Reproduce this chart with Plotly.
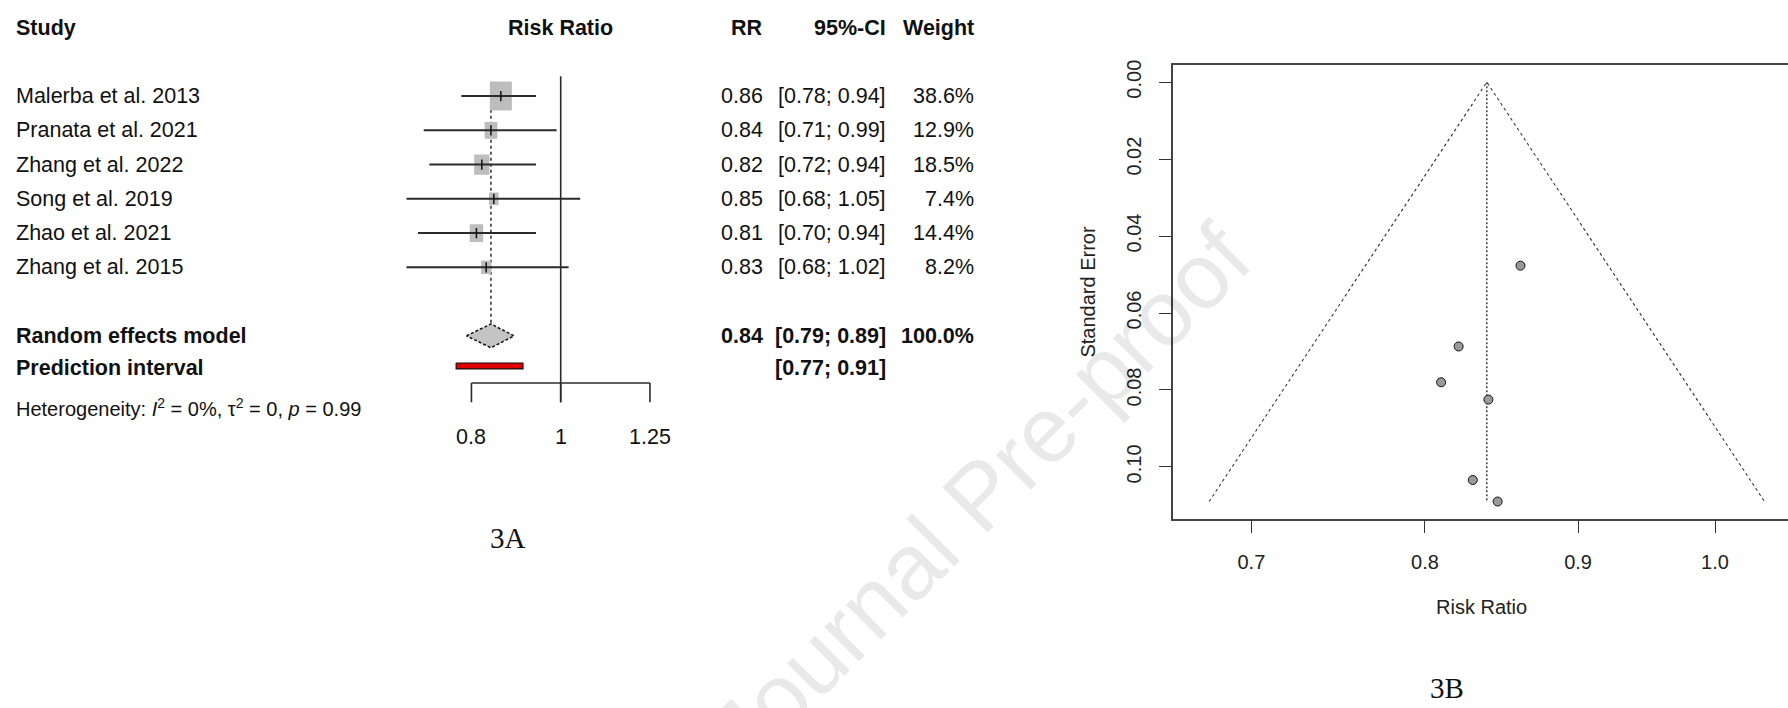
import math
import plotly.graph_objects as go

# ---------------- data ----------------
studies = ["Malerba et al. 2013", "Pranata et al. 2021", "Zhang et al. 2022",
           "Song et al. 2019", "Zhao et al. 2021", "Zhang et al. 2015"]
rr = [0.861, 0.840, 0.821, 0.846, 0.810, 0.830]
ci_lo = [0.78, 0.71, 0.72, 0.68, 0.70, 0.68]
ci_hi = [0.94, 0.99, 0.94, 1.05, 0.94, 1.02]
weight = [38.6, 12.9, 18.5, 7.4, 14.4, 8.2]
se = [0.0477, 0.0825, 0.0687, 0.1090, 0.0780, 0.1034]

pooled_rr, pooled_lo, pooled_hi = 0.84, 0.79, 0.89
pred_lo, pred_hi = 0.77, 0.91
funnel_center = 0.839
het_text = "Heterogeneity: <i>I</i><sup>2</sup> = 0%, τ<sup>2</sup> = 0, <i>p</i> = 0.99"

forest_ticks = [0.8, 1, 1.25]
forest_ticklabels = ["0.8", "1", "1.25"]
funnel_xticks = [0.7, 0.8, 0.9, 1.0]
funnel_xticklabels = ["0.7", "0.8", "0.9", "1.0"]
funnel_yticks = [0.0, 0.02, 0.04, 0.06, 0.08, 0.10]
funnel_yticklabels = ["0.00", "0.02", "0.04", "0.06", "0.08", "0.10"]

# ---------------- layout geometry ----------------
W, H = 1788, 708
LN10 = math.log(10)
SANS = "Liberation Sans, Arial, Helvetica, sans-serif"
SERIF = "Liberation Serif, Times New Roman, serif"
FS = 21.5  # forest text size

def px(xp):
    return xp / W

def py(yp):
    return 1 - yp / H

# forest x: RR=1 at 560.7 px, 400 px per ln unit
F_ONE, F_SCALE = 560.7, 400.0
F_DOM = [0.0, 0.6]
f_range = [((F_DOM[0] * W) - F_ONE) / F_SCALE / LN10, ((F_DOM[1] * W) - F_ONE) / F_SCALE / LN10]
# forest y: row 0 at 91.7 px, 34.5 px per row
R0, RS = 91.7, 34.5
fy_range = [(H - R0) / RS, (0 - R0) / RS]

def row_h(pix):
    return pix / RS

# funnel axes
FX_LEFT = 1172.7
FX_07 = 1251.4
FX_SCALE = 1299.8
fx_range = [(math.log(0.7) - (FX_07 - FX_LEFT) / FX_SCALE) / LN10,
            (math.log(0.7) + (W - FX_07) / FX_SCALE) / LN10]
FY_TOP, FY_BOT = 60.7, 517.3
FY_0, FY_SCALE = 77.7, 3875.0
fy2_range = [(FY_BOT - FY_0) / FY_SCALE, (FY_TOP - FY_0) / FY_SCALE]

fig = go.Figure()
DARK = "#2b2b2b"

# ---------------- forest plot ----------------
n = len(studies)
rows = list(range(n))
row_re, row_pi, row_axis, row_tickend, row_ticklab, row_het, row_head = 7, 7.88, 8.376, 8.94, 9.95, 9.08, -2.0

# pooled dashed line
fig.add_trace(go.Scatter(x=[pooled_rr, pooled_rr], y=[-0.3, row_re - row_h(12)], mode="lines",
                         line=dict(color=DARK, width=1.5, dash="3px,3px"), xaxis="x", yaxis="y",
                         hoverinfo="skip", showlegend=False))
# line of no effect
fig.add_trace(go.Scatter(x=[1, 1], y=[row_h(71.7 - R0), row_tickend], mode="lines",
                         line=dict(color=DARK, width=1.6), xaxis="x", yaxis="y",
                         hoverinfo="skip", showlegend=False))
# squares
for i in rows:
    wpx = 3.55 * math.sqrt(weight[i])
    hw = wpx / 2 / F_SCALE
    hh = row_h(wpx * 1.33) / 2
    xs = [rr[i] * math.exp(-hw), rr[i] * math.exp(hw), rr[i] * math.exp(hw), rr[i] * math.exp(-hw), rr[i] * math.exp(-hw)]
    ys = [i - hh, i - hh, i + hh, i + hh, i - hh]
    fig.add_trace(go.Scatter(x=xs, y=ys, mode="lines", fill="toself", fillcolor="#bdbdbd",
                             line=dict(width=0, color="#bdbdbd"), xaxis="x", yaxis="y",
                             hoverinfo="skip", showlegend=False))
# CI lines
cx, cy = [], []
for i in rows:
    cx += [ci_lo[i], ci_hi[i], None]
    cy += [i, i, None]
fig.add_trace(go.Scatter(x=cx, y=cy, mode="lines", line=dict(color=DARK, width=2),
                         xaxis="x", yaxis="y", hoverinfo="skip", showlegend=False))
# estimate ticks
tx, ty = [], []
for i in rows:
    tx += [rr[i], rr[i], None]
    ty += [i - 0.15, i + 0.15, None]
fig.add_trace(go.Scatter(x=tx, y=ty, mode="lines", line=dict(color="#111", width=1.5),
                         xaxis="x", yaxis="y", hoverinfo="skip", showlegend=False))
# diamond
dh = row_h(12)
fig.add_trace(go.Scatter(x=[pooled_lo, pooled_rr, pooled_hi, pooled_rr, pooled_lo],
                         y=[row_re, row_re - dh, row_re, row_re + dh, row_re],
                         mode="lines", fill="toself", fillcolor="#c4c4c4",
                         line=dict(color="#111", width=1.5, dash="3px,2px"),
                         xaxis="x", yaxis="y", hoverinfo="skip", showlegend=False))
# prediction interval
ph = row_h(3)
fig.add_trace(go.Scatter(x=[pred_lo, pred_hi, pred_hi, pred_lo, pred_lo],
                         y=[row_pi - ph, row_pi - ph, row_pi + ph, row_pi + ph, row_pi - ph],
                         mode="lines", fill="toself", fillcolor="#e00000",
                         line=dict(color="#111", width=1.2),
                         xaxis="x", yaxis="y", hoverinfo="skip", showlegend=False))
# forest axis
ax_x = [forest_ticks[0], forest_ticks[0], None, forest_ticks[0], forest_ticks[-1], None]
ax_y = [row_tickend, row_axis, None, row_axis, row_axis, None]
for t in forest_ticks[1:]:
    ax_x += [t, t, None]
    ax_y += [row_axis, row_tickend, None]
fig.add_trace(go.Scatter(x=ax_x, y=ax_y, mode="lines", line=dict(color=DARK, width=1.6),
                         xaxis="x", yaxis="y", hoverinfo="skip", showlegend=False))

ann = []
def txt(x, y, s, xref="paper", yref="y", xanchor="left", size=FS, bold=False, font=SANS, color="#111", **kw):
    if bold:
        s = "<b>" + s + "</b>"
    ann.append(dict(x=x, y=y, xref=xref, yref=yref, text=s, showarrow=False, xanchor=xanchor,
                    yanchor="middle", font=dict(family=font, size=size, color=color), **kw))

for t, lab in zip(forest_ticks, forest_ticklabels):
    txt(math.log10(t), row_ticklab, lab, xref="x", xanchor="center")

X_STUDY, X_RR, X_CI, X_W = px(14), px(765), px(888), px(976)
txt(X_STUDY, row_head, "Study", bold=True)
txt(math.log10(1), row_head, "Risk Ratio", xref="x", xanchor="center", bold=True)
txt(X_RR, row_head, "RR", xanchor="right", bold=True)
txt(X_CI, row_head, "95%-CI", xanchor="right", bold=True)
txt(X_W, row_head, "Weight", xanchor="right", bold=True)
for i in rows:
    txt(X_STUDY, i, studies[i])
    txt(X_RR, i, f"{rr[i]:.2f}", xanchor="right")
    txt(X_CI, i, f"[{ci_lo[i]:.2f}; {ci_hi[i]:.2f}]", xanchor="right")
    txt(X_W, i, f"{weight[i]:.1f}%", xanchor="right")
txt(X_STUDY, row_re, "Random effects model", bold=True)
txt(X_RR, row_re, f"{pooled_rr:.2f}", xanchor="right", bold=True)
txt(X_CI, row_re, f"[{pooled_lo:.2f}; {pooled_hi:.2f}]", xanchor="right", bold=True)
txt(X_W, row_re, f"{sum(weight):.1f}%", xanchor="right", bold=True)
txt(X_STUDY, row_pi + 0.07, "Prediction interval", bold=True)
txt(X_CI, row_pi + 0.07, f"[{pred_lo:.2f}; {pred_hi:.2f}]", xanchor="right", bold=True)
txt(X_STUDY, row_het, het_text, size=20)

# ---------------- funnel plot ----------------
se_max = max(se)
fl = funnel_center * math.exp(-1.96 * se_max)
fr = funnel_center * math.exp(1.96 * se_max)
fig.add_trace(go.Scatter(x=[fl, funnel_center, fr], y=[se_max, 0, se_max], mode="lines",
                         line=dict(color="#333", width=1.1, dash="dot"),
                         xaxis="x2", yaxis="y2", hoverinfo="skip", showlegend=False))
fig.add_trace(go.Scatter(x=[funnel_center, funnel_center], y=[0, se_max], mode="lines",
                         line=dict(color="#222", width=1.3, dash="2px,2px"),
                         xaxis="x2", yaxis="y2", hoverinfo="skip", showlegend=False))
fig.add_trace(go.Scatter(x=rr, y=se, mode="markers",
                         marker=dict(size=9, color="#9a9a9a", line=dict(color="#111", width=1)),
                         xaxis="x2", yaxis="y2", showlegend=False))

FUN_FONT = dict(family=SANS, size=20, color="#222")
ann.append(dict(x=px(1087.6), y=py(289), xref="paper", yref="paper", text="Standard Error",
                showarrow=False, textangle=-90, font=FUN_FONT, xanchor="center", yanchor="middle"))
ann.append(dict(x=px(1481), y=py(606.5), xref="paper", yref="paper", text="Risk Ratio",
                showarrow=False, font=FUN_FONT, xanchor="center", yanchor="middle"))

# panel labels
ann.append(dict(x=px(508), y=py(537), xref="paper", yref="paper", text="3A", showarrow=False,
                font=dict(family=SERIF, size=29, color="#111"), xanchor="center", yanchor="middle"))
ann.append(dict(x=px(1447), y=py(688), xref="paper", yref="paper", text="3B", showarrow=False,
                font=dict(family=SERIF, size=29, color="#111"), xanchor="center", yanchor="middle"))

# watermark
ann.append(dict(x=px(980), y=py(493), xref="paper", yref="paper", text="Journal Pre-proof",
                showarrow=False, textangle=-45,
                font=dict(family=SANS, size=93, color="rgba(0,0,0,0.085)"),
                xanchor="center", yanchor="middle"))

fig.update_layout(
    width=W, height=H,
    margin=dict(l=0, r=0, t=0, b=0),
    paper_bgcolor="white", plot_bgcolor="rgba(0,0,0,0)",
    showlegend=False,
    annotations=ann,
    xaxis=dict(domain=F_DOM, type="log", range=f_range, visible=False, fixedrange=True),
    yaxis=dict(domain=[0, 1], range=fy_range, visible=False, fixedrange=True),
    xaxis2=dict(domain=[px(FX_LEFT), 1.0], type="log", range=fx_range, anchor="y2",
                showgrid=False, zeroline=False, showline=True, mirror=True,
                linecolor="#444", linewidth=1.6,
                ticks="outside", ticklen=13, tickwidth=1.4, tickcolor="#333",
                tickvals=funnel_xticks, ticktext=funnel_xticklabels,
                tickfont=FUN_FONT, ticklabelstandoff=12),
    yaxis2=dict(domain=[py(FY_BOT), py(FY_TOP)], range=fy2_range, anchor="x2",
                showgrid=False, zeroline=False, showline=True, mirror=False,
                linecolor="#444", linewidth=1.6,
                ticks="outside", ticklen=12, tickwidth=1.4, tickcolor="#333",
                tickvals=funnel_yticks, ticktext=funnel_yticklabels,
                tickangle=-90, tickfont=FUN_FONT, ticklabelstandoff=10),
)

fig.write_html("out.html", config={"displayModeBar": False},
               post_script="document.body.style.margin='0px';document.body.style.padding='0px';document.body.style.overflow='hidden';")
